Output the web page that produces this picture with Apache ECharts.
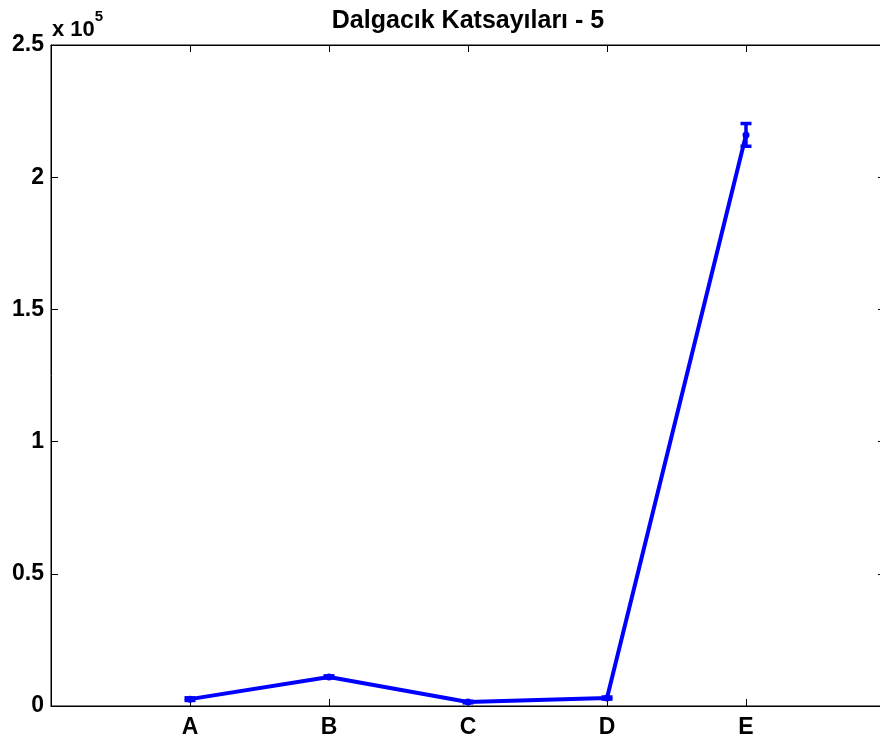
<!DOCTYPE html>
<html>
<head>
<meta charset="utf-8">
<script src="https://cdn.jsdelivr.net/npm/echarts@6/dist/echarts.min.js"></script>
<style>
html, body { margin: 0; padding: 0; background: #fff; }
#chart { width: 880px; height: 742px; }
</style>
</head>
<body>
<div id="chart"></div>
<script>
var categories = ['A', 'B', 'C', 'D', 'E'];
var means = [2600, 11000, 1500, 3000, 216000];
var errors = [500, 400, 300, 400, 4300];
var yTicks = [0, 50000, 100000, 150000, 200000, 250000];

var chartDom = document.getElementById('chart');
var myChart = echarts.init(chartDom);
var option;

var font = 'Liberation Sans, Arial, sans-serif';
var lineData = means.map(function (v, i) { return [i + 1, v]; });
var errData = means.map(function (v, i) { return [i + 1, v - errors[i], v + errors[i]]; });

function catLabel(v) {
    return categories[v - 1] || '';
}

var tick = { show: true, inside: true, length: 7, lineStyle: { color: '#000', width: 1 } };

option = {
    animation: false,
    title: {
        text: 'Dalgacık Katsayıları - 5',
        left: 463,
        textAlign: 'center',
        top: 4,
        textStyle: { fontFamily: font, fontSize: 25, fontWeight: 'bold', color: '#000' }
    },
    graphic: [
        {
            type: 'text',
            left: 52,
            top: 9,
            style: {
                text: '{a|x 10}{b|5}',
                rich: {
                    a: { fontFamily: font, fontSize: 22, fontWeight: 'bold', fill: '#000', padding: [10, 0, 0, 0] },
                    b: { fontFamily: font, fontSize: 15, fontWeight: 'bold', fill: '#000', verticalAlign: 'top' }
                }
            }
        }
    ],
    grid: {
        left: 51,
        top: 45,
        width: 834,
        height: 661,
        outerBoundsMode: 'none',
        containLabel: false,
        show: true,
        borderColor: '#000',
        borderWidth: 1
    },
    xAxis: [
        {
            type: 'value',
            min: 0,
            max: 6,
            interval: 1,
            position: 'bottom',
            axisLine: { show: true, onZero: false, lineStyle: { color: '#000', width: 1 } },
            axisTick: tick,
            axisLabel: { formatter: catLabel, fontFamily: font, fontSize: 23, fontWeight: 'bold', color: '#000', margin: 10 },
            splitLine: { show: false }
        },
        {
            type: 'value',
            min: 0,
            max: 6,
            interval: 1,
            position: 'top',
            axisLine: { show: true, onZero: false, lineStyle: { color: '#000', width: 1 } },
            axisTick: tick,
            axisLabel: { show: false },
            splitLine: { show: false }
        }
    ],
    yAxis: [
        {
            type: 'value',
            min: yTicks[0],
            max: yTicks[yTicks.length - 1],
            interval: 50000,
            position: 'left',
            axisLine: { show: true, onZero: false, lineStyle: { color: '#000', width: 1 } },
            axisTick: tick,
            axisLabel: {
                formatter: function (v) { return String(v / 100000); },
                fontFamily: font, fontSize: 23, fontWeight: 'bold', color: '#000', margin: 7
            },
            splitLine: { show: false }
        },
        {
            type: 'value',
            min: yTicks[0],
            max: yTicks[yTicks.length - 1],
            interval: 50000,
            position: 'right',
            axisLine: { show: true, onZero: false, lineStyle: { color: '#000', width: 1 } },
            axisTick: tick,
            axisLabel: { show: false },
            splitLine: { show: false }
        }
    ],
    series: [
        {
            type: 'line',
            data: lineData,
            symbol: 'circle',
            symbolSize: 7,
            lineStyle: { color: '#0000ff', width: 4 },
            itemStyle: { color: '#0000ff' },
            z: 3
        },
        {
            type: 'custom',
            data: errData,
            z: 4,
            renderItem: function (params, api) {
                var x = api.value(0);
                var lo = api.coord([x, api.value(1)]);
                var hi = api.coord([x, api.value(2)]);
                var half = 5.5;
                var style = { stroke: '#0000ff', lineWidth: 3.5, fill: null };
                return {
                    type: 'group',
                    children: [
                        { type: 'line', shape: { x1: lo[0], y1: lo[1], x2: hi[0], y2: hi[1] }, style: style },
                        { type: 'line', shape: { x1: lo[0] - half, y1: lo[1], x2: lo[0] + half, y2: lo[1] }, style: style },
                        { type: 'line', shape: { x1: hi[0] - half, y1: hi[1], x2: hi[0] + half, y2: hi[1] }, style: style }
                    ]
                };
            }
        }
    ]
};
option && myChart.setOption(option);
</script>
</body>
</html>
